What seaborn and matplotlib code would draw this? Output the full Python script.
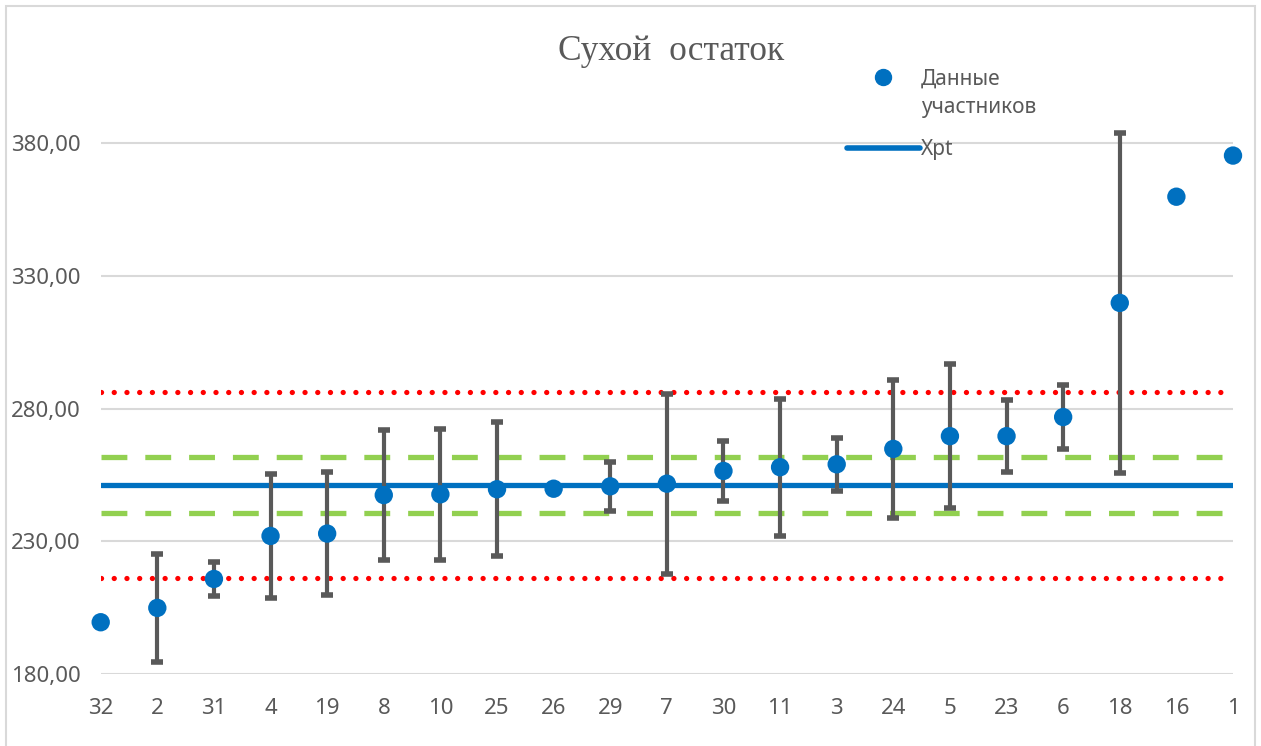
import numpy as np
import pandas as pd
import seaborn as sns
import matplotlib
matplotlib.use('Agg')
import matplotlib.pyplot as plt
from matplotlib.lines import Line2D
from matplotlib.patches import Rectangle

# participant codes in plotted (sorted) order
participants = ['32', '2', '31', '4', '19', '8', '10', '25', '26', '29', '7',
                '30', '11', '3', '24', '5', '23', '6', '18', '16', '1']
values = [199.5, 204.9, 215.8, 232.0, 232.9, 247.4, 247.7, 249.6, 249.8, 250.7, 251.7,
          256.5, 257.9, 259.0, 264.8, 269.6, 269.6, 276.8, 319.8, 359.8, 375.3]
# reported uncertainty (NaN = none given)
uncert = [np.nan, 20.4, 6.3, 23.3, 23.2, 24.5, 24.7, 25.2, np.nan, 9.2, 33.9,
          11.3, 25.8, 9.9, 26.0, 27.2, 13.5, 11.9, 64.0, np.nan, np.nan]

xpt = 251.2
inner_limits = [240.6, 261.9]
outer_limits = [216.0, 286.1]
y_ticks = [180, 230, 280, 330, 380]

df = pd.DataFrame({'pos': np.arange(len(participants)), 'value': values,
                   'u': uncert, 'participant': participants})

sns.set_style('white')
plt.rcParams['font.family'] = ['Noto Sans', 'DejaVu Sans']

fig = plt.figure(figsize=(12.61, 7.46), dpi=100)
ax = fig.add_axes([100.7 / 1261, 1 - 674 / 746, (1233 - 100.7) / 1261, 584 / 746])

grey = '#595959'

for yl in inner_limits:
    ax.axhline(yl, color='#92D050', lw=3.8, ls=(0, (4.9, 3.4)), zorder=2)
for yl in outer_limits:
    ax.axhline(yl, color='#FF0000', lw=3.8, ls=(0, (0.01, 2.4)),
               dash_capstyle='round', solid_capstyle='round', zorder=2)
ax.axhline(xpt, color='#0070C0', lw=3.8, zorder=2, label='Xpt')

ax.errorbar(df['pos'], df['value'], yerr=df['u'], fmt='none', ecolor=grey,
            elinewidth=3, capsize=4.3, capthick=4, zorder=3, clip_on=False)

sns.scatterplot(data=df, x='pos', y='value', s=175, color='#0070C0',
                edgecolor='none', zorder=4, ax=ax, clip_on=False)

ax.set_xlim(0, len(participants) - 1)
ax.set_ylim(180, 400)
ax.set_yticks(y_ticks)
ax.set_yticklabels([f'{t:.2f}'.replace('.', ',') for t in y_ticks])
ax.set_xticks(df['pos'])
ax.set_xticklabels(participants)
ax.tick_params(axis='both', length=0, labelsize=16, colors=grey)
ax.tick_params(axis='y', pad=14.5)
ax.tick_params(axis='x', pad=17)
ax.grid(axis='y', color='#D9D9D9', lw=1.5, zorder=0)
ax.set_axisbelow(True)
ax.set_xlabel('')
ax.set_ylabel('')
for sp in ax.spines.values():
    sp.set_visible(False)

fig.text(0.532, 0.931, 'Сухой  остаток', ha='center', va='center',
         family='Liberation Serif', fontsize=25.5, color=grey)

handles = [Line2D([], [], marker='o', ls='none', color='#0070C0', markersize=11.5),
           Line2D([], [], color='#0070C0', lw=4)]
leg = ax.legend(handles, ['Данные\nучастников', 'Xpt'], loc='upper left',
                bbox_to_anchor=(828 / 1261, 1 - 50 / 746), bbox_transform=fig.transFigure,
                frameon=False, fontsize=15, labelcolor=grey, handlelength=3.5,
                handletextpad=0.05, labelspacing=1.03)
leg.get_texts()[0].set_linespacing(1.45)
# keep the marker level with the first line of its two-line label
mk = leg.legend_handles[0]
mk.set_ydata(np.asarray(mk.get_ydata()) + 12)

fig.patches.append(Rectangle((6 / 1261, -0.01), 1249 / 1261, 1 - 6 / 746 + 0.01,
                             transform=fig.transFigure, fill=False,
                             edgecolor='#D9D9D9', lw=1.5))

fig.savefig('out.png', dpi=100)
